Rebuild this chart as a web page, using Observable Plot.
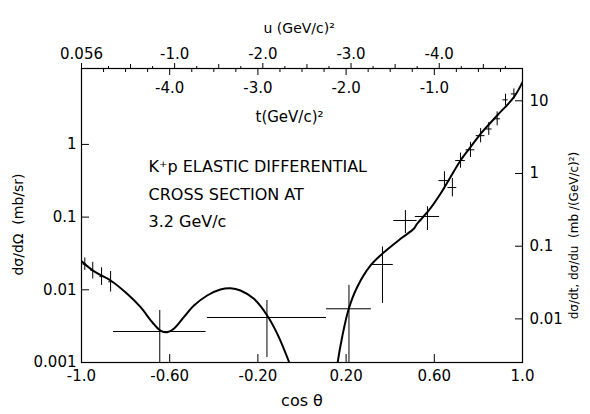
<!DOCTYPE html>
<html><head><meta charset="utf-8">
<script src="https://cdn.jsdelivr.net/npm/d3@7"></script>
<script src="https://cdn.jsdelivr.net/npm/@observablehq/plot@0.6"></script>
<style>body{margin:0;background:#fff}</style>
</head><body><div id="chart"></div>
<script>
// ---- data ----
const ptCos   = [-0.985, -0.949, -0.909, -0.868, -0.645, -0.159, 0.213, 0.365, 0.469, 0.569, 0.646, 0.682, 0.719, 0.764, 0.810, 0.847, 0.885, 0.923, 0.961];
const ptVal   = [0.0225, 0.0184, 0.0152, 0.0129, 0.00267, 0.00416, 0.00548, 0.0223, 0.0898, 0.102, 0.318, 0.255, 0.60, 0.843, 1.32, 1.63, 2.25, 4.1, 4.95];
const ptLo    = [0.0185, 0.0141, 0.0115, 0.0093, 0.0005, 0.00117, 0.0005, 0.0065, 0.0594, 0.0654, 0.24, 0.19, 0.47, 0.66, 1.05, 1.33, 1.8, 3.4, 4.2];
const ptHi    = [0.0274, 0.0239, 0.0201, 0.0179, 0.00519, 0.00713, 0.0115, 0.0388, 0.123, 0.139, 0.42, 0.34, 0.76, 1.07, 1.65, 2.0, 2.8, 4.9, 5.8];
const ptHalfW = [0.008, 0.008, 0.008, 0.008, 0.21, 0.27, 0.102, 0.049, 0.053, 0.055, 0.025, 0.02, 0.022, 0.02, 0.02, 0.015, 0.015, 0.012, 0.012];

const leftCurveCos = [-1.0, -0.937, -0.868, -0.793, -0.732, -0.679, -0.642, -0.611, -0.581, -0.536, -0.490, -0.430, -0.370, -0.324, -0.279, -0.218, -0.158, -0.112, -0.060, -0.050];
const leftCurveVal = [0.0247, 0.01746, 0.01342, 0.00881, 0.00577, 0.00358, 0.00275, 0.00261, 0.00291, 0.00420, 0.00608, 0.00835, 0.01010, 0.01051, 0.00978, 0.00751, 0.00444, 0.00248, 0.00104, 0.00085];
const rightCurveCos = [0.158, 0.162, 0.182, 0.212, 0.250, 0.311, 0.364, 0.447, 0.507, 0.522, 0.575, 0.628, 0.673, 0.719, 0.764, 0.810, 0.885, 0.961, 1.0];
const rightCurveVal = [0.0008, 0.00101, 0.00223, 0.00548, 0.01086, 0.0216, 0.0313, 0.0503, 0.0691, 0.081, 0.1233, 0.2094, 0.354, 0.601, 0.916, 1.40, 2.50, 4.46, 7.2];

const leftTicks = [1, 0.1, 0.01, 0.001];
const leftTickLabels = ["1", "0.1", "0.01", "0.001"];
const rightTicks = [10, 1, 0.1, 0.01];
const rightTickLabels = ["10", "1", "0.1", "0.01"];
const bottomTicks = [-1.0, -0.6, -0.2, 0.2, 0.6, 1.0];
const bottomTickLabels = ["-1.0", "-0.60", "-0.20", "0.20", "0.60", "1.0"];
const uTicks = [0.056, -1.0, -2.0, -3.0, -4.0];
const uTickLabels = ["0.056", "-1.0", "-2.0", "-3.0", "-4.0"];
const uHalfTicks = [-0.5, -1.5, -2.5, -3.5, -4.5];
const tTicks = [-4.0, -3.0, -2.0, -1.0];
const tTickLabels = ["-4.0", "-3.0", "-2.0", "-1.0"];
const titleLines = ["K\u207Ap ELASTIC DIFFERENTIAL", "CROSS SECTION AT", "3.2 GeV/c"];

// kinematics: p*^2 (GeV/c)^2 in CM; t = -2p^2(1-cos), u = u0 - 2p^2(1+cos); dσ/dt = (π/p^2) dσ/dΩ
const p2 = 1.25, u0 = 0.056;
const cosFromT = t => 1 + t / (2 * p2);
const cosFromU = u => -1 + (u0 - u) / (2 * p2);
const dtFactor = Math.PI / p2;

const points = ptCos.map((c, i) => ({cos: c, val: ptVal[i], lo: ptLo[i], hi: ptHi[i], hw: ptHalfW[i]}));
const leftCurve = leftCurveCos.map((c, i) => ({cos: c, val: leftCurveVal[i]}));
const rightCurve = rightCurveCos.map((c, i) => ({cos: c, val: rightCurveVal[i]}));

const uMinor = d3.range(0, 49).map(k => -0.25 * k).filter(u => u >= -4.8 && !Number.isInteger(u * 2));
const tMinor = d3.range(0, 20).map(k => -0.25 * k).filter(t => !Number.isInteger(t) && cosFromT(t) > -1);

const leftMap = new Map(leftTicks.map((v, i) => [v, leftTickLabels[i]]));
const rightPos = rightTicks.map(v => v / dtFactor);
const bottomMap = new Map(bottomTicks.map((v, i) => [v, bottomTickLabels[i]]));
const uPos = uTicks.map(cosFromU);
const uMap = new Map(uPos.map((v, i) => [v, uTickLabels[i]]));
const blank = () => "";

const chart = Plot.plot({
  width: 590, height: 414,
  marginLeft: 81, marginRight: 68, marginTop: 68, marginBottom: 52,
  x: {domain: [-1, 1]},
  y: {type: "log", domain: [0.001, 11.07]},
  style: {fontFamily: "DejaVu Sans", fontSize: "15px", background: "white", color: "black"},
  marks: [
    Plot.frame({stroke: "black", strokeWidth: 1.2}),
    // left axis
    Plot.axisY({anchor: "left", ticks: leftTicks, tickFormat: d => leftMap.get(d), tickSize: 0, tickPadding: 5, label: null}),
    Plot.axisY({anchor: "left", ticks: leftTicks, tickFormat: blank, tickSize: -8, label: null}),
    // right axis (dσ/dt scale)
    Plot.axisY({anchor: "right", ticks: rightPos, tickFormat: blank, tickSize: -8, label: null}),
    Plot.text(rightTicks, {y: v => v / dtFactor, frameAnchor: "right", dx: 7, textAnchor: "start", lineAnchor: "middle", text: (d, i) => rightTickLabels[i], fontSize: 15}),
    // bottom axis
    Plot.axisX({anchor: "bottom", ticks: bottomTicks, tickFormat: d => bottomMap.get(d), tickSize: 0, tickPadding: 8, label: null}),
    Plot.axisX({anchor: "bottom", ticks: bottomTicks.slice(1, -1), tickFormat: blank, tickSize: -8, label: null}),
    // top axis (u above, t below)
    Plot.axisX({anchor: "top", ticks: uPos, tickFormat: d => uMap.get(d), tickSize: 6, tickPadding: 4, label: null}),
    Plot.axisX({anchor: "top", ticks: uHalfTicks.map(cosFromU), tickFormat: blank, tickSize: 5, label: null}),
    Plot.axisX({anchor: "top", ticks: uMinor.map(cosFromU), tickFormat: blank, tickSize: 3, label: null}),
    Plot.axisX({anchor: "top", ticks: tTicks.map(cosFromT), tickFormat: blank, tickSize: -6, label: null}),
    Plot.axisX({anchor: "top", ticks: tMinor.map(cosFromT), tickFormat: blank, tickSize: -3, label: null}),
    Plot.text(tTicks, {x: cosFromT, frameAnchor: "top", dy: 20, lineAnchor: "middle", text: (d, i) => tTickLabels[i], fontSize: 15}),
    // error bars
    Plot.ruleX(points, {x: "cos", y1: d => Math.max(d.lo, 0.001), y2: "hi", stroke: "black", strokeWidth: 1}),
    Plot.ruleY(points, {y: "val", x1: d => d.cos - d.hw, x2: d => d.cos + d.hw, stroke: "black", strokeWidth: 1}),
    // fitted curves
    Plot.line(leftCurve, {x: "cos", y: "val", curve: "catmull-rom", stroke: "black", strokeWidth: 2, clip: true}),
    Plot.line(rightCurve, {x: "cos", y: "val", curve: "catmull-rom", stroke: "black", strokeWidth: 2, clip: true}),
    // annotations
    Plot.text([titleLines.join("\n")], {frameAnchor: "top-left", dx: 67, dy: 84, textAnchor: "start", lineAnchor: "top", lineHeight: 1.72, fontSize: 16}),
    Plot.text(["u (GeV/c)\u00B2"], {frameAnchor: "top-left", dx: 182, dy: -40, textAnchor: "start", lineAnchor: "middle", fontSize: 14}),
    Plot.text(["t(GeV/c)\u00B2"], {frameAnchor: "top-left", dx: 174, dy: 49, textAnchor: "start", lineAnchor: "middle", fontSize: 15}),
    Plot.text(["cos \u03B8"], {frameAnchor: "bottom", dy: 38, lineAnchor: "middle", fontSize: 16}),
    Plot.text(["d\u03C3/d\u03A9  (mb/sr)"], {frameAnchor: "left", dx: -63, dy: 9, rotate: -90, textAnchor: "middle", lineAnchor: "middle", fontSize: 14}),
    Plot.text(["d\u03C3/dt, d\u03C3/du  (mb /(GeV/c)\u00B2)"], {frameAnchor: "right", dx: 52, dy: 20, rotate: -90, textAnchor: "middle", lineAnchor: "middle", fontSize: 12})
  ]
});
document.getElementById("chart").append(chart);
</script></body></html>
